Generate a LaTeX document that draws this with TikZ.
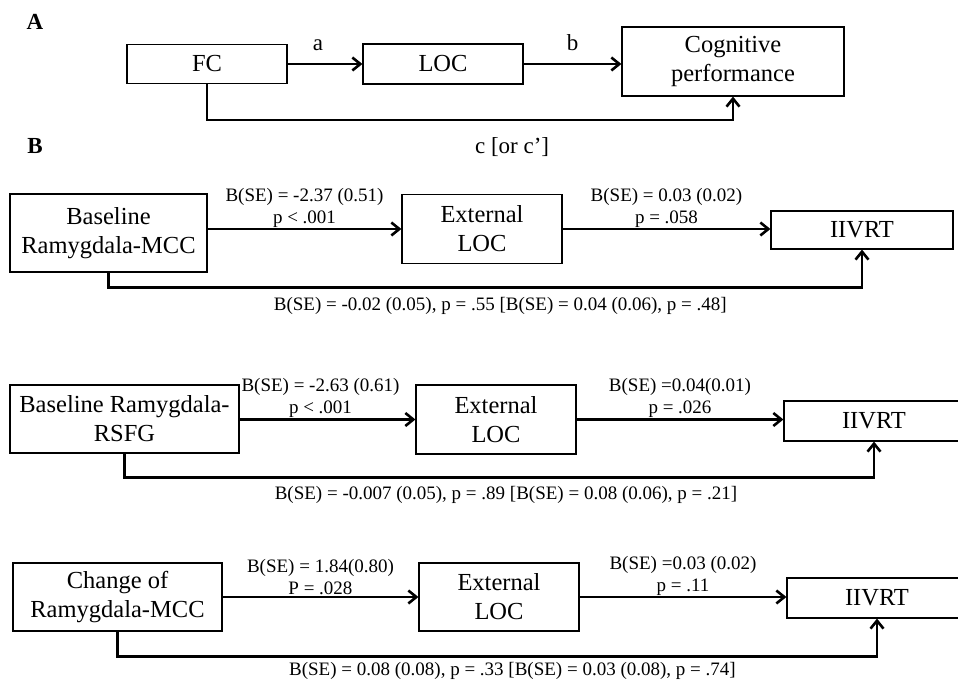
\documentclass[tikz,border=0pt]{standalone}
\usepackage{fontspec}
\setmainfont{Liberation Serif}
\usetikzlibrary{arrows.meta}
\begin{document}
\begin{tikzpicture}[
  x=1pt, y=-1pt,
  node distance=236pt,
  box/.style={rectangle, draw=black, line width=1.2pt, inner sep=0pt, align=center, font=\fontsize{24.5}{29}\selectfont},
  coef/.style={inner sep=0pt, align=center, font=\fontsize{19}{22}\selectfont},
  letter/.style={inner sep=0pt, font=\fontsize{23}{28}\selectfont},
  panel/.style={inner sep=0pt, font=\fontsize{23}{26}\selectfont\bfseries},
  arrow/.style={-{Straight Barb[length=8pt,width=13pt]}, line width=2.6pt}
]
\useasboundingbox (0,0) rectangle (958,684);

% Panel A: mediation model
\node[panel] (labA) at (35,22) {A};
\node[box, minimum width=160pt, minimum height=39pt] (fc) at (207,64) {FC};
\node[box, minimum width=160pt, minimum height=40pt, right of=fc, node distance=236pt] (loc) {LOC};
\node[box, minimum width=222pt, minimum height=69pt, right of=loc, node distance=290pt, yshift=2.5pt] (cog) {Cognitive\\performance};

\draw[arrow] (fc) -- (loc) node[midway, above=12pt, letter, xshift=-7pt] {a};
\draw[arrow] (loc.east) -- (loc.east -| cog.west) node[midway, above=12pt, letter] {b};
\draw[arrow] (fc.south) -- ++(0,36) -| (cog.south) node[pos=0.29, below=16pt, letter] {c [or c’]};

% Panel B: Ramygdala-MCC at baseline
\node[panel] (labB) at (35,146) {B};
\node[box, minimum width=160pt, minimum height=69pt] (ext1) at (482,229) {External\\LOC};
\node[box, minimum width=197pt, minimum height=78pt, left of=ext1, node distance=373.5pt, yshift=-4pt] (base1) {Baseline\\Ramygdala-MCC};
\node[box, minimum width=182pt, minimum height=38pt, right of=ext1, node distance=380pt, yshift=-1pt] (iivrt1) {IIVRT};

\draw[arrow] (base1.east |- ext1.west) -- (ext1.west) node[midway, above=0.5pt, coef] {B(SE) = -2.37 (0.51)\\p < .001};
\draw[arrow] (ext1.east) -- (ext1.east -| iivrt1.west) node[midway, above=0.5pt, coef] {B(SE) = 0.03 (0.02)\\p = .058};
\draw[arrow] (base1.south) -- ++(0,15) -| (iivrt1.south) node[pos=0.26, below=8pt, coef] {B(SE) = -0.02 (0.05), p = .55 [B(SE) = 0.04 (0.06), p = .48]};

% Panel B: Ramygdala-RSFG at baseline
\node[box, minimum width=160pt, minimum height=69pt] (ext2) at (496,419.5) {External\\LOC};
\node[box, minimum width=229pt, minimum height=68pt, left of=ext2, node distance=371.5pt, yshift=0.5pt] (base2) {Baseline Ramygdala-\\RSFG};
\node[box, minimum width=180pt, minimum height=40pt, right of=ext2, node distance=378pt, yshift=-1.5pt] (iivrt2) {IIVRT};

\draw[arrow] (base2.east |- ext2.west) -- (ext2.west) node[midway, above=0.5pt, coef, xshift=-7pt] {B(SE) = -2.63 (0.61)\\p < .001};
\draw[arrow] (ext2.east) -- (ext2.east -| iivrt2.west) node[midway, above=0.5pt, coef] {B(SE) =0.04(0.01)\\p = .026};
\draw[arrow] (base2.south) -- ++(0,24) -| (iivrt2.south) node[pos=0.2545, below=7pt, coef] {B(SE) = -0.007 (0.05), p = .89 [B(SE) = 0.08 (0.06), p = .21]};

% Panel B: change of Ramygdala-MCC
\node[box, minimum width=160pt, minimum height=68pt] (ext3) at (499,597) {External\\LOC};
\node[box, minimum width=209pt, minimum height=68pt, left of=ext3, node distance=381.5pt] (base3) {Change of\\Ramygdala-MCC};
\node[box, minimum width=180pt, minimum height=40pt, right of=ext3, node distance=378pt, yshift=-1pt] (iivrt3) {IIVRT};

\draw[arrow] (base3.east |- ext3.west) -- (ext3.west) node[midway, above=0.5pt, coef] {B(SE) = 1.84(0.80)\\P = .028};
\draw[arrow] (ext3.east) -- (ext3.east -| iivrt3.west) node[midway, above=0.5pt, coef] {B(SE) =0.03 (0.02)\\p = .11};
\draw[arrow] (base3.south) -- ++(0,25) -| (iivrt3.south) node[pos=0.26, below=4pt, coef] {B(SE) = 0.08 (0.08), p = .33 [B(SE) = 0.03 (0.08), p = .74]};

\end{tikzpicture}
\end{document}
